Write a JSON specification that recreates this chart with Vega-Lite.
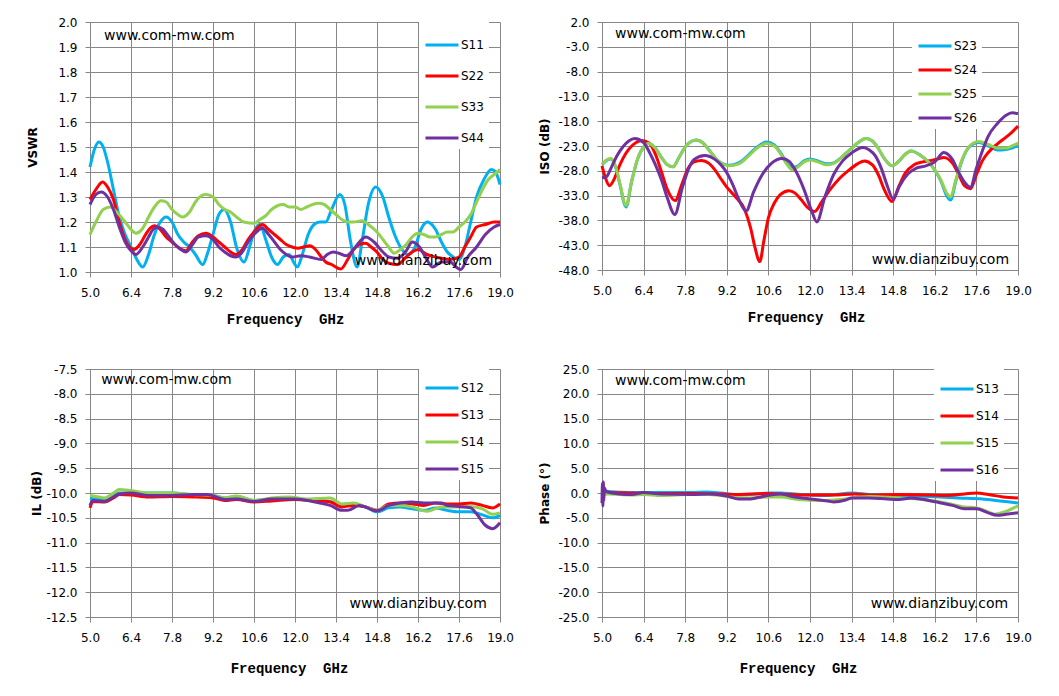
{
  "$schema": "https://vega.github.io/schema/vega-lite/v6.json",
  "description": "Switch matrix S-parameters: VSWR, isolation, insertion loss and phase vs frequency",
  "background": "white",
  "padding": {"left": 26, "top": 16, "right": 5, "bottom": 5},
  "datasets": {
    "vswr": [
      {"f":5.0,"v":1.42,"s":"S11"},{"f":5.15,"v":1.49,"s":"S11"},{"f":5.3,"v":1.52,"s":"S11"},{"f":5.45,"v":1.5,"s":"S11"},{"f":5.6,"v":1.44,"s":"S11"},{"f":5.8,"v":1.33,"s":"S11"},{"f":6.0,"v":1.22,"s":"S11"},{"f":6.2,"v":1.15,"s":"S11"},{"f":6.4,"v":1.1,"s":"S11"},{"f":6.6,"v":1.05,"s":"S11"},{"f":6.8,"v":1.02,"s":"S11"},{"f":7.0,"v":1.07,"s":"S11"},{"f":7.2,"v":1.15,"s":"S11"},{"f":7.4,"v":1.2,"s":"S11"},{"f":7.6,"v":1.22,"s":"S11"},{"f":7.8,"v":1.2,"s":"S11"},{"f":8.0,"v":1.15,"s":"S11"},{"f":8.2,"v":1.12,"s":"S11"},{"f":8.4,"v":1.1,"s":"S11"},{"f":8.6,"v":1.07,"s":"S11"},{"f":8.85,"v":1.03,"s":"S11"},{"f":9.0,"v":1.07,"s":"S11"},{"f":9.2,"v":1.15,"s":"S11"},{"f":9.4,"v":1.23,"s":"S11"},{"f":9.58,"v":1.25,"s":"S11"},{"f":9.8,"v":1.2,"s":"S11"},{"f":10.0,"v":1.1,"s":"S11"},{"f":10.26,"v":1.04,"s":"S11"},{"f":10.45,"v":1.1,"s":"S11"},{"f":10.6,"v":1.16,"s":"S11"},{"f":10.8,"v":1.19,"s":"S11"},{"f":11.0,"v":1.13,"s":"S11"},{"f":11.2,"v":1.06,"s":"S11"},{"f":11.4,"v":1.03,"s":"S11"},{"f":11.6,"v":1.06,"s":"S11"},{"f":11.8,"v":1.07,"s":"S11"},{"f":11.95,"v":1.04,"s":"S11"},{"f":12.08,"v":1.02,"s":"S11"},{"f":12.25,"v":1.07,"s":"S11"},{"f":12.45,"v":1.15,"s":"S11"},{"f":12.65,"v":1.19,"s":"S11"},{"f":12.85,"v":1.2,"s":"S11"},{"f":13.05,"v":1.2,"s":"S11"},{"f":13.25,"v":1.25,"s":"S11"},{"f":13.53,"v":1.31,"s":"S11"},{"f":13.7,"v":1.27,"s":"S11"},{"f":13.9,"v":1.12,"s":"S11"},{"f":14.12,"v":1.02,"s":"S11"},{"f":14.3,"v":1.13,"s":"S11"},{"f":14.5,"v":1.27,"s":"S11"},{"f":14.76,"v":1.34,"s":"S11"},{"f":15.0,"v":1.3,"s":"S11"},{"f":15.2,"v":1.22,"s":"S11"},{"f":15.4,"v":1.15,"s":"S11"},{"f":15.6,"v":1.1,"s":"S11"},{"f":15.85,"v":1.07,"s":"S11"},{"f":16.1,"v":1.1,"s":"S11"},{"f":16.3,"v":1.17,"s":"S11"},{"f":16.52,"v":1.2,"s":"S11"},{"f":16.8,"v":1.17,"s":"S11"},{"f":17.0,"v":1.12,"s":"S11"},{"f":17.2,"v":1.08,"s":"S11"},{"f":17.4,"v":1.06,"s":"S11"},{"f":17.6,"v":1.05,"s":"S11"},{"f":17.8,"v":1.1,"s":"S11"},{"f":18.0,"v":1.2,"s":"S11"},{"f":18.2,"v":1.3,"s":"S11"},{"f":18.45,"v":1.37,"s":"S11"},{"f":18.71,"v":1.41,"s":"S11"},{"f":18.85,"v":1.4,"s":"S11"},{"f":19.0,"v":1.35,"s":"S11"},
      {"f":5.0,"v":1.29,"s":"S22"},{"f":5.2,"v":1.33,"s":"S22"},{"f":5.43,"v":1.36,"s":"S22"},{"f":5.6,"v":1.34,"s":"S22"},{"f":5.8,"v":1.29,"s":"S22"},{"f":6.0,"v":1.2,"s":"S22"},{"f":6.2,"v":1.13,"s":"S22"},{"f":6.35,"v":1.1,"s":"S22"},{"f":6.5,"v":1.09,"s":"S22"},{"f":6.7,"v":1.11,"s":"S22"},{"f":6.9,"v":1.15,"s":"S22"},{"f":7.05,"v":1.175,"s":"S22"},{"f":7.2,"v":1.185,"s":"S22"},{"f":7.4,"v":1.17,"s":"S22"},{"f":7.6,"v":1.14,"s":"S22"},{"f":7.8,"v":1.12,"s":"S22"},{"f":8.0,"v":1.1,"s":"S22"},{"f":8.27,"v":1.085,"s":"S22"},{"f":8.5,"v":1.12,"s":"S22"},{"f":8.7,"v":1.145,"s":"S22"},{"f":8.96,"v":1.155,"s":"S22"},{"f":9.2,"v":1.14,"s":"S22"},{"f":9.4,"v":1.12,"s":"S22"},{"f":9.6,"v":1.1,"s":"S22"},{"f":9.8,"v":1.08,"s":"S22"},{"f":9.98,"v":1.07,"s":"S22"},{"f":10.2,"v":1.09,"s":"S22"},{"f":10.4,"v":1.13,"s":"S22"},{"f":10.6,"v":1.16,"s":"S22"},{"f":10.89,"v":1.19,"s":"S22"},{"f":11.1,"v":1.17,"s":"S22"},{"f":11.3,"v":1.15,"s":"S22"},{"f":11.5,"v":1.13,"s":"S22"},{"f":11.7,"v":1.11,"s":"S22"},{"f":11.9,"v":1.1,"s":"S22"},{"f":12.1,"v":1.095,"s":"S22"},{"f":12.3,"v":1.1,"s":"S22"},{"f":12.5,"v":1.105,"s":"S22"},{"f":12.7,"v":1.09,"s":"S22"},{"f":12.9,"v":1.06,"s":"S22"},{"f":13.05,"v":1.04,"s":"S22"},{"f":13.25,"v":1.03,"s":"S22"},{"f":13.56,"v":1.012,"s":"S22"},{"f":13.8,"v":1.05,"s":"S22"},{"f":14.0,"v":1.09,"s":"S22"},{"f":14.2,"v":1.11,"s":"S22"},{"f":14.42,"v":1.115,"s":"S22"},{"f":14.6,"v":1.1,"s":"S22"},{"f":14.8,"v":1.08,"s":"S22"},{"f":15.0,"v":1.05,"s":"S22"},{"f":15.2,"v":1.035,"s":"S22"},{"f":15.5,"v":1.03,"s":"S22"},{"f":15.8,"v":1.06,"s":"S22"},{"f":16.0,"v":1.08,"s":"S22"},{"f":16.2,"v":1.09,"s":"S22"},{"f":16.5,"v":1.07,"s":"S22"},{"f":16.8,"v":1.06,"s":"S22"},{"f":17.0,"v":1.055,"s":"S22"},{"f":17.3,"v":1.05,"s":"S22"},{"f":17.6,"v":1.06,"s":"S22"},{"f":17.8,"v":1.1,"s":"S22"},{"f":18.0,"v":1.14,"s":"S22"},{"f":18.2,"v":1.18,"s":"S22"},{"f":18.5,"v":1.19,"s":"S22"},{"f":18.8,"v":1.2,"s":"S22"},{"f":19.0,"v":1.2,"s":"S22"},
      {"f":5.0,"v":1.15,"s":"S33"},{"f":5.2,"v":1.2,"s":"S33"},{"f":5.45,"v":1.25,"s":"S33"},{"f":5.7,"v":1.26,"s":"S33"},{"f":5.95,"v":1.235,"s":"S33"},{"f":6.2,"v":1.2,"s":"S33"},{"f":6.4,"v":1.17,"s":"S33"},{"f":6.57,"v":1.155,"s":"S33"},{"f":6.8,"v":1.175,"s":"S33"},{"f":7.0,"v":1.22,"s":"S33"},{"f":7.2,"v":1.26,"s":"S33"},{"f":7.42,"v":1.285,"s":"S33"},{"f":7.6,"v":1.28,"s":"S33"},{"f":7.8,"v":1.25,"s":"S33"},{"f":8.0,"v":1.23,"s":"S33"},{"f":8.16,"v":1.22,"s":"S33"},{"f":8.4,"v":1.24,"s":"S33"},{"f":8.6,"v":1.28,"s":"S33"},{"f":8.8,"v":1.305,"s":"S33"},{"f":8.96,"v":1.31,"s":"S33"},{"f":9.2,"v":1.3,"s":"S33"},{"f":9.4,"v":1.27,"s":"S33"},{"f":9.6,"v":1.25,"s":"S33"},{"f":9.8,"v":1.24,"s":"S33"},{"f":10.0,"v":1.22,"s":"S33"},{"f":10.25,"v":1.2,"s":"S33"},{"f":10.6,"v":1.195,"s":"S33"},{"f":10.8,"v":1.21,"s":"S33"},{"f":11.0,"v":1.225,"s":"S33"},{"f":11.2,"v":1.25,"s":"S33"},{"f":11.4,"v":1.265,"s":"S33"},{"f":11.6,"v":1.27,"s":"S33"},{"f":11.8,"v":1.26,"s":"S33"},{"f":12.0,"v":1.26,"s":"S33"},{"f":12.2,"v":1.25,"s":"S33"},{"f":12.4,"v":1.26,"s":"S33"},{"f":12.6,"v":1.27,"s":"S33"},{"f":12.8,"v":1.275,"s":"S33"},{"f":13.0,"v":1.27,"s":"S33"},{"f":13.2,"v":1.25,"s":"S33"},{"f":13.4,"v":1.23,"s":"S33"},{"f":13.6,"v":1.21,"s":"S33"},{"f":13.8,"v":1.2,"s":"S33"},{"f":14.0,"v":1.2,"s":"S33"},{"f":14.3,"v":1.205,"s":"S33"},{"f":14.5,"v":1.19,"s":"S33"},{"f":14.8,"v":1.16,"s":"S33"},{"f":15.0,"v":1.13,"s":"S33"},{"f":15.2,"v":1.1,"s":"S33"},{"f":15.38,"v":1.075,"s":"S33"},{"f":15.6,"v":1.09,"s":"S33"},{"f":15.8,"v":1.11,"s":"S33"},{"f":16.0,"v":1.14,"s":"S33"},{"f":16.2,"v":1.155,"s":"S33"},{"f":16.4,"v":1.15,"s":"S33"},{"f":16.6,"v":1.14,"s":"S33"},{"f":16.8,"v":1.14,"s":"S33"},{"f":17.0,"v":1.15,"s":"S33"},{"f":17.2,"v":1.16,"s":"S33"},{"f":17.4,"v":1.16,"s":"S33"},{"f":17.6,"v":1.18,"s":"S33"},{"f":17.8,"v":1.2,"s":"S33"},{"f":18.0,"v":1.23,"s":"S33"},{"f":18.2,"v":1.28,"s":"S33"},{"f":18.4,"v":1.33,"s":"S33"},{"f":18.6,"v":1.37,"s":"S33"},{"f":18.8,"v":1.39,"s":"S33"},{"f":19.0,"v":1.41,"s":"S33"},
      {"f":5.0,"v":1.27,"s":"S44"},{"f":5.2,"v":1.31,"s":"S44"},{"f":5.38,"v":1.32,"s":"S44"},{"f":5.6,"v":1.3,"s":"S44"},{"f":5.8,"v":1.25,"s":"S44"},{"f":6.0,"v":1.18,"s":"S44"},{"f":6.2,"v":1.12,"s":"S44"},{"f":6.4,"v":1.085,"s":"S44"},{"f":6.57,"v":1.07,"s":"S44"},{"f":6.8,"v":1.1,"s":"S44"},{"f":7.0,"v":1.14,"s":"S44"},{"f":7.15,"v":1.17,"s":"S44"},{"f":7.3,"v":1.18,"s":"S44"},{"f":7.5,"v":1.17,"s":"S44"},{"f":7.7,"v":1.14,"s":"S44"},{"f":7.9,"v":1.11,"s":"S44"},{"f":8.1,"v":1.09,"s":"S44"},{"f":8.27,"v":1.08,"s":"S44"},{"f":8.5,"v":1.11,"s":"S44"},{"f":8.7,"v":1.14,"s":"S44"},{"f":8.96,"v":1.145,"s":"S44"},{"f":9.2,"v":1.13,"s":"S44"},{"f":9.4,"v":1.1,"s":"S44"},{"f":9.6,"v":1.08,"s":"S44"},{"f":9.8,"v":1.065,"s":"S44"},{"f":9.98,"v":1.06,"s":"S44"},{"f":10.2,"v":1.08,"s":"S44"},{"f":10.4,"v":1.12,"s":"S44"},{"f":10.6,"v":1.15,"s":"S44"},{"f":10.89,"v":1.175,"s":"S44"},{"f":11.1,"v":1.15,"s":"S44"},{"f":11.3,"v":1.12,"s":"S44"},{"f":11.5,"v":1.09,"s":"S44"},{"f":11.7,"v":1.07,"s":"S44"},{"f":11.9,"v":1.06,"s":"S44"},{"f":12.2,"v":1.065,"s":"S44"},{"f":12.5,"v":1.06,"s":"S44"},{"f":12.9,"v":1.05,"s":"S44"},{"f":13.1,"v":1.07,"s":"S44"},{"f":13.3,"v":1.08,"s":"S44"},{"f":13.5,"v":1.075,"s":"S44"},{"f":13.75,"v":1.065,"s":"S44"},{"f":14.0,"v":1.09,"s":"S44"},{"f":14.2,"v":1.12,"s":"S44"},{"f":14.42,"v":1.14,"s":"S44"},{"f":14.7,"v":1.12,"s":"S44"},{"f":15.0,"v":1.08,"s":"S44"},{"f":15.2,"v":1.06,"s":"S44"},{"f":15.5,"v":1.055,"s":"S44"},{"f":15.8,"v":1.085,"s":"S44"},{"f":16.0,"v":1.12,"s":"S44"},{"f":16.25,"v":1.1,"s":"S44"},{"f":16.5,"v":1.05,"s":"S44"},{"f":16.7,"v":1.02,"s":"S44"},{"f":17.0,"v":1.04,"s":"S44"},{"f":17.3,"v":1.04,"s":"S44"},{"f":17.5,"v":1.02,"s":"S44"},{"f":17.66,"v":1.01,"s":"S44"},{"f":17.9,"v":1.06,"s":"S44"},{"f":18.2,"v":1.1,"s":"S44"},{"f":18.5,"v":1.15,"s":"S44"},{"f":18.8,"v":1.18,"s":"S44"},{"f":19.0,"v":1.19,"s":"S44"}
    ],
    "iso": [
      {"f":5.0,"v":-26.8,"s":"S23"},{"f":5.15,"v":-25.9,"s":"S23"},{"f":5.3,"v":-25.6,"s":"S23"},{"f":5.45,"v":-27.1,"s":"S23"},{"f":5.6,"v":-30.7,"s":"S23"},{"f":5.81,"v":-35.3,"s":"S23"},{"f":6.0,"v":-30.1,"s":"S23"},{"f":6.2,"v":-25.6,"s":"S23"},{"f":6.4,"v":-23.2,"s":"S23"},{"f":6.56,"v":-22.5,"s":"S23"},{"f":6.8,"v":-23.5,"s":"S23"},{"f":7.0,"v":-25.3,"s":"S23"},{"f":7.2,"v":-26.8,"s":"S23"},{"f":7.39,"v":-27.2,"s":"S23"},{"f":7.6,"v":-25.2,"s":"S23"},{"f":7.8,"v":-23.2,"s":"S23"},{"f":8.0,"v":-22.1,"s":"S23"},{"f":8.18,"v":-21.8,"s":"S23"},{"f":8.4,"v":-22.4,"s":"S23"},{"f":8.6,"v":-23.8,"s":"S23"},{"f":8.8,"v":-25.3,"s":"S23"},{"f":9.0,"v":-26.4,"s":"S23"},{"f":9.27,"v":-26.9,"s":"S23"},{"f":9.6,"v":-26.4,"s":"S23"},{"f":9.9,"v":-25,"s":"S23"},{"f":10.2,"v":-23.3,"s":"S23"},{"f":10.54,"v":-22.2,"s":"S23"},{"f":10.8,"v":-22.8,"s":"S23"},{"f":11.0,"v":-24.3,"s":"S23"},{"f":11.2,"v":-26.2,"s":"S23"},{"f":11.41,"v":-27.4,"s":"S23"},{"f":11.6,"v":-27,"s":"S23"},{"f":11.8,"v":-26,"s":"S23"},{"f":12.0,"v":-25.6,"s":"S23"},{"f":12.3,"v":-26.1,"s":"S23"},{"f":12.56,"v":-26.6,"s":"S23"},{"f":12.8,"v":-26.4,"s":"S23"},{"f":13.0,"v":-25.6,"s":"S23"},{"f":13.2,"v":-24.5,"s":"S23"},{"f":13.4,"v":-23.5,"s":"S23"},{"f":13.6,"v":-22.4,"s":"S23"},{"f":13.89,"v":-21.5,"s":"S23"},{"f":14.1,"v":-22,"s":"S23"},{"f":14.3,"v":-23.5,"s":"S23"},{"f":14.5,"v":-25.5,"s":"S23"},{"f":14.76,"v":-27,"s":"S23"},{"f":15.0,"v":-26,"s":"S23"},{"f":15.2,"v":-24.7,"s":"S23"},{"f":15.4,"v":-24,"s":"S23"},{"f":15.7,"v":-24.8,"s":"S23"},{"f":16.0,"v":-26.3,"s":"S23"},{"f":16.2,"v":-27.9,"s":"S23"},{"f":16.4,"v":-30,"s":"S23"},{"f":16.6,"v":-33,"s":"S23"},{"f":16.73,"v":-33.9,"s":"S23"},{"f":16.9,"v":-30.3,"s":"S23"},{"f":17.1,"v":-26.2,"s":"S23"},{"f":17.3,"v":-23.6,"s":"S23"},{"f":17.5,"v":-22.6,"s":"S23"},{"f":17.68,"v":-22.3,"s":"S23"},{"f":18.0,"v":-23,"s":"S23"},{"f":18.3,"v":-23.8,"s":"S23"},{"f":18.6,"v":-23.7,"s":"S23"},{"f":18.8,"v":-23.4,"s":"S23"},{"f":19.0,"v":-23,"s":"S23"},
      {"f":5.0,"v":-27,"s":"S24"},{"f":5.12,"v":-29.5,"s":"S24"},{"f":5.25,"v":-31,"s":"S24"},{"f":5.4,"v":-29.8,"s":"S24"},{"f":5.6,"v":-26.8,"s":"S24"},{"f":5.8,"v":-24.5,"s":"S24"},{"f":6.0,"v":-23,"s":"S24"},{"f":6.15,"v":-22.3,"s":"S24"},{"f":6.33,"v":-21.9,"s":"S24"},{"f":6.6,"v":-22.5,"s":"S24"},{"f":6.8,"v":-24.7,"s":"S24"},{"f":7.0,"v":-28.2,"s":"S24"},{"f":7.2,"v":-31.8,"s":"S24"},{"f":7.46,"v":-34,"s":"S24"},{"f":7.7,"v":-30.5,"s":"S24"},{"f":7.9,"v":-27.5,"s":"S24"},{"f":8.1,"v":-26.2,"s":"S24"},{"f":8.35,"v":-25.9,"s":"S24"},{"f":8.6,"v":-26.5,"s":"S24"},{"f":8.8,"v":-27.8,"s":"S24"},{"f":9.0,"v":-29.6,"s":"S24"},{"f":9.2,"v":-31.3,"s":"S24"},{"f":9.5,"v":-33.3,"s":"S24"},{"f":9.8,"v":-35.8,"s":"S24"},{"f":10.0,"v":-39.5,"s":"S24"},{"f":10.15,"v":-43.5,"s":"S24"},{"f":10.31,"v":-46.3,"s":"S24"},{"f":10.45,"v":-42,"s":"S24"},{"f":10.6,"v":-37.5,"s":"S24"},{"f":10.8,"v":-34.5,"s":"S24"},{"f":11.0,"v":-32.8,"s":"S24"},{"f":11.29,"v":-32,"s":"S24"},{"f":11.5,"v":-32.5,"s":"S24"},{"f":11.7,"v":-33.8,"s":"S24"},{"f":11.9,"v":-35.3,"s":"S24"},{"f":12.16,"v":-36.2,"s":"S24"},{"f":12.4,"v":-34.2,"s":"S24"},{"f":12.7,"v":-31.6,"s":"S24"},{"f":13.0,"v":-29.5,"s":"S24"},{"f":13.3,"v":-27.9,"s":"S24"},{"f":13.6,"v":-26.6,"s":"S24"},{"f":13.83,"v":-26,"s":"S24"},{"f":14.1,"v":-26.8,"s":"S24"},{"f":14.3,"v":-28.8,"s":"S24"},{"f":14.5,"v":-31.8,"s":"S24"},{"f":14.76,"v":-34.2,"s":"S24"},{"f":15.0,"v":-31,"s":"S24"},{"f":15.2,"v":-28.5,"s":"S24"},{"f":15.5,"v":-26.8,"s":"S24"},{"f":15.8,"v":-26.2,"s":"S24"},{"f":16.1,"v":-25.9,"s":"S24"},{"f":16.3,"v":-25.6,"s":"S24"},{"f":16.5,"v":-25.3,"s":"S24"},{"f":16.8,"v":-26.5,"s":"S24"},{"f":17.0,"v":-28.7,"s":"S24"},{"f":17.2,"v":-31,"s":"S24"},{"f":17.4,"v":-31.6,"s":"S24"},{"f":17.6,"v":-28.8,"s":"S24"},{"f":17.8,"v":-26,"s":"S24"},{"f":18.0,"v":-24.3,"s":"S24"},{"f":18.3,"v":-22.6,"s":"S24"},{"f":18.6,"v":-21.2,"s":"S24"},{"f":18.8,"v":-20.2,"s":"S24"},{"f":19.0,"v":-19,"s":"S24"},
      {"f":5.0,"v":-26.7,"s":"S25"},{"f":5.15,"v":-25.8,"s":"S25"},{"f":5.3,"v":-25.5,"s":"S25"},{"f":5.45,"v":-27,"s":"S25"},{"f":5.6,"v":-30.5,"s":"S25"},{"f":5.81,"v":-35,"s":"S25"},{"f":6.0,"v":-30,"s":"S25"},{"f":6.2,"v":-25.5,"s":"S25"},{"f":6.4,"v":-23.2,"s":"S25"},{"f":6.56,"v":-22.5,"s":"S25"},{"f":6.8,"v":-23.5,"s":"S25"},{"f":7.0,"v":-25.3,"s":"S25"},{"f":7.2,"v":-26.8,"s":"S25"},{"f":7.39,"v":-27.2,"s":"S25"},{"f":7.6,"v":-25.2,"s":"S25"},{"f":7.8,"v":-23.2,"s":"S25"},{"f":8.0,"v":-22.1,"s":"S25"},{"f":8.18,"v":-21.8,"s":"S25"},{"f":8.4,"v":-22.4,"s":"S25"},{"f":8.6,"v":-23.8,"s":"S25"},{"f":8.8,"v":-25.3,"s":"S25"},{"f":9.0,"v":-26.4,"s":"S25"},{"f":9.27,"v":-27,"s":"S25"},{"f":9.6,"v":-26.6,"s":"S25"},{"f":9.9,"v":-25.2,"s":"S25"},{"f":10.2,"v":-23.5,"s":"S25"},{"f":10.54,"v":-22.5,"s":"S25"},{"f":10.8,"v":-23,"s":"S25"},{"f":11.0,"v":-24.5,"s":"S25"},{"f":11.2,"v":-26.5,"s":"S25"},{"f":11.41,"v":-27.8,"s":"S25"},{"f":11.6,"v":-27.2,"s":"S25"},{"f":11.8,"v":-26.2,"s":"S25"},{"f":12.0,"v":-25.8,"s":"S25"},{"f":12.3,"v":-26.3,"s":"S25"},{"f":12.56,"v":-26.8,"s":"S25"},{"f":12.8,"v":-26.5,"s":"S25"},{"f":13.0,"v":-25.6,"s":"S25"},{"f":13.2,"v":-24.5,"s":"S25"},{"f":13.4,"v":-23.5,"s":"S25"},{"f":13.6,"v":-22.4,"s":"S25"},{"f":13.89,"v":-21.5,"s":"S25"},{"f":14.1,"v":-22,"s":"S25"},{"f":14.3,"v":-23.5,"s":"S25"},{"f":14.5,"v":-25.5,"s":"S25"},{"f":14.76,"v":-27,"s":"S25"},{"f":15.0,"v":-26,"s":"S25"},{"f":15.2,"v":-24.7,"s":"S25"},{"f":15.4,"v":-24,"s":"S25"},{"f":15.7,"v":-24.8,"s":"S25"},{"f":16.0,"v":-26.3,"s":"S25"},{"f":16.2,"v":-27.8,"s":"S25"},{"f":16.4,"v":-29.8,"s":"S25"},{"f":16.6,"v":-32.5,"s":"S25"},{"f":16.73,"v":-33.3,"s":"S25"},{"f":16.9,"v":-30,"s":"S25"},{"f":17.1,"v":-26,"s":"S25"},{"f":17.3,"v":-23.5,"s":"S25"},{"f":17.5,"v":-22.4,"s":"S25"},{"f":17.68,"v":-22.1,"s":"S25"},{"f":18.0,"v":-22.7,"s":"S25"},{"f":18.3,"v":-23.4,"s":"S25"},{"f":18.6,"v":-23.4,"s":"S25"},{"f":18.8,"v":-23,"s":"S25"},{"f":19.0,"v":-22.4,"s":"S25"},
      {"f":5.0,"v":-29.4,"s":"S26"},{"f":5.15,"v":-29.2,"s":"S26"},{"f":5.3,"v":-27.5,"s":"S26"},{"f":5.5,"v":-25,"s":"S26"},{"f":5.7,"v":-23.2,"s":"S26"},{"f":5.9,"v":-22,"s":"S26"},{"f":6.1,"v":-21.5,"s":"S26"},{"f":6.4,"v":-22.3,"s":"S26"},{"f":6.6,"v":-24.3,"s":"S26"},{"f":6.8,"v":-26.8,"s":"S26"},{"f":7.0,"v":-29.8,"s":"S26"},{"f":7.2,"v":-33.5,"s":"S26"},{"f":7.45,"v":-36.8,"s":"S26"},{"f":7.7,"v":-31.5,"s":"S26"},{"f":7.9,"v":-27.8,"s":"S26"},{"f":8.1,"v":-25.7,"s":"S26"},{"f":8.46,"v":-24.9,"s":"S26"},{"f":8.8,"v":-25.7,"s":"S26"},{"f":9.0,"v":-26.8,"s":"S26"},{"f":9.2,"v":-28.4,"s":"S26"},{"f":9.4,"v":-30.8,"s":"S26"},{"f":9.6,"v":-33.7,"s":"S26"},{"f":9.85,"v":-36.1,"s":"S26"},{"f":10.1,"v":-32.3,"s":"S26"},{"f":10.4,"v":-28.7,"s":"S26"},{"f":10.7,"v":-26.5,"s":"S26"},{"f":11.06,"v":-25.5,"s":"S26"},{"f":11.3,"v":-26.1,"s":"S26"},{"f":11.5,"v":-27.8,"s":"S26"},{"f":11.8,"v":-31.8,"s":"S26"},{"f":12.05,"v":-36,"s":"S26"},{"f":12.23,"v":-38.3,"s":"S26"},{"f":12.5,"v":-33.3,"s":"S26"},{"f":12.8,"v":-28.7,"s":"S26"},{"f":13.1,"v":-26,"s":"S26"},{"f":13.4,"v":-24.4,"s":"S26"},{"f":13.78,"v":-23.3,"s":"S26"},{"f":14.0,"v":-23.8,"s":"S26"},{"f":14.2,"v":-25,"s":"S26"},{"f":14.4,"v":-27.5,"s":"S26"},{"f":14.6,"v":-31,"s":"S26"},{"f":14.8,"v":-33.7,"s":"S26"},{"f":15.0,"v":-31.2,"s":"S26"},{"f":15.3,"v":-28.6,"s":"S26"},{"f":15.6,"v":-27.4,"s":"S26"},{"f":15.9,"v":-27,"s":"S26"},{"f":16.2,"v":-26.2,"s":"S26"},{"f":16.5,"v":-24.3,"s":"S26"},{"f":16.8,"v":-25.8,"s":"S26"},{"f":17.0,"v":-28.3,"s":"S26"},{"f":17.4,"v":-31.3,"s":"S26"},{"f":17.6,"v":-27.5,"s":"S26"},{"f":17.8,"v":-24,"s":"S26"},{"f":18.0,"v":-21,"s":"S26"},{"f":18.3,"v":-18.5,"s":"S26"},{"f":18.6,"v":-16.8,"s":"S26"},{"f":18.8,"v":-16.3,"s":"S26"},{"f":19.0,"v":-16.5,"s":"S26"}
    ],
    "il": [
      {"f":5.0,"v":-10.1,"s":"S12"},{"f":5.3,"v":-10.13,"s":"S12"},{"f":5.6,"v":-10.14,"s":"S12"},{"f":6.0,"v":-10.0,"s":"S12"},{"f":6.4,"v":-10.0,"s":"S12"},{"f":7.0,"v":-10.0,"s":"S12"},{"f":7.8,"v":-10.0,"s":"S12"},{"f":8.5,"v":-10.04,"s":"S12"},{"f":9.2,"v":-10.05,"s":"S12"},{"f":9.6,"v":-10.1,"s":"S12"},{"f":10.0,"v":-10.07,"s":"S12"},{"f":10.6,"v":-10.15,"s":"S12"},{"f":11.2,"v":-10.12,"s":"S12"},{"f":12.0,"v":-10.12,"s":"S12"},{"f":12.6,"v":-10.15,"s":"S12"},{"f":13.2,"v":-10.17,"s":"S12"},{"f":13.6,"v":-10.25,"s":"S12"},{"f":14.0,"v":-10.24,"s":"S12"},{"f":14.4,"v":-10.28,"s":"S12"},{"f":14.8,"v":-10.38,"s":"S12"},{"f":15.2,"v":-10.3,"s":"S12"},{"f":15.6,"v":-10.28,"s":"S12"},{"f":16.0,"v":-10.32,"s":"S12"},{"f":16.4,"v":-10.35,"s":"S12"},{"f":16.8,"v":-10.3,"s":"S12"},{"f":17.2,"v":-10.35,"s":"S12"},{"f":17.6,"v":-10.38,"s":"S12"},{"f":18.0,"v":-10.38,"s":"S12"},{"f":18.4,"v":-10.44,"s":"S12"},{"f":18.75,"v":-10.5,"s":"S12"},{"f":19.0,"v":-10.45,"s":"S12"},
      {"f":5.0,"v":-10.3,"s":"S13"},{"f":5.1,"v":-10.17,"s":"S13"},{"f":5.5,"v":-10.18,"s":"S13"},{"f":5.8,"v":-10.1,"s":"S13"},{"f":6.0,"v":-10.03,"s":"S13"},{"f":6.4,"v":-10.04,"s":"S13"},{"f":7.0,"v":-10.08,"s":"S13"},{"f":7.8,"v":-10.07,"s":"S13"},{"f":8.5,"v":-10.08,"s":"S13"},{"f":9.2,"v":-10.1,"s":"S13"},{"f":9.6,"v":-10.15,"s":"S13"},{"f":10.0,"v":-10.13,"s":"S13"},{"f":10.6,"v":-10.18,"s":"S13"},{"f":11.2,"v":-10.16,"s":"S13"},{"f":12.0,"v":-10.13,"s":"S13"},{"f":12.6,"v":-10.15,"s":"S13"},{"f":13.2,"v":-10.18,"s":"S13"},{"f":13.6,"v":-10.28,"s":"S13"},{"f":14.0,"v":-10.25,"s":"S13"},{"f":14.4,"v":-10.28,"s":"S13"},{"f":14.8,"v":-10.35,"s":"S13"},{"f":15.2,"v":-10.22,"s":"S13"},{"f":15.6,"v":-10.2,"s":"S13"},{"f":16.0,"v":-10.22,"s":"S13"},{"f":16.4,"v":-10.25,"s":"S13"},{"f":16.8,"v":-10.2,"s":"S13"},{"f":17.2,"v":-10.22,"s":"S13"},{"f":17.6,"v":-10.22,"s":"S13"},{"f":18.0,"v":-10.2,"s":"S13"},{"f":18.4,"v":-10.25,"s":"S13"},{"f":18.75,"v":-10.3,"s":"S13"},{"f":19.0,"v":-10.22,"s":"S13"},
      {"f":5.0,"v":-10.05,"s":"S14"},{"f":5.2,"v":-10.07,"s":"S14"},{"f":5.5,"v":-10.1,"s":"S14"},{"f":5.8,"v":-10.0,"s":"S14"},{"f":6.0,"v":-9.93,"s":"S14"},{"f":6.4,"v":-9.95,"s":"S14"},{"f":7.0,"v":-10.0,"s":"S14"},{"f":7.8,"v":-10.0,"s":"S14"},{"f":8.5,"v":-10.03,"s":"S14"},{"f":9.2,"v":-10.05,"s":"S14"},{"f":9.6,"v":-10.1,"s":"S14"},{"f":10.0,"v":-10.06,"s":"S14"},{"f":10.6,"v":-10.15,"s":"S14"},{"f":11.2,"v":-10.1,"s":"S14"},{"f":11.8,"v":-10.08,"s":"S14"},{"f":12.4,"v":-10.12,"s":"S14"},{"f":13.2,"v":-10.1,"s":"S14"},{"f":13.6,"v":-10.22,"s":"S14"},{"f":14.0,"v":-10.2,"s":"S14"},{"f":14.4,"v":-10.28,"s":"S14"},{"f":14.8,"v":-10.35,"s":"S14"},{"f":15.2,"v":-10.25,"s":"S14"},{"f":15.6,"v":-10.25,"s":"S14"},{"f":16.0,"v":-10.28,"s":"S14"},{"f":16.5,"v":-10.37,"s":"S14"},{"f":17.0,"v":-10.28,"s":"S14"},{"f":17.6,"v":-10.28,"s":"S14"},{"f":18.0,"v":-10.27,"s":"S14"},{"f":18.4,"v":-10.32,"s":"S14"},{"f":18.75,"v":-10.43,"s":"S14"},{"f":19.0,"v":-10.4,"s":"S14"},
      {"f":5.0,"v":-10.25,"s":"S15"},{"f":5.1,"v":-10.15,"s":"S15"},{"f":5.5,"v":-10.17,"s":"S15"},{"f":5.8,"v":-10.08,"s":"S15"},{"f":6.0,"v":-10.02,"s":"S15"},{"f":6.4,"v":-10.0,"s":"S15"},{"f":7.0,"v":-10.05,"s":"S15"},{"f":7.8,"v":-10.05,"s":"S15"},{"f":8.5,"v":-10.03,"s":"S15"},{"f":9.0,"v":-10.03,"s":"S15"},{"f":9.6,"v":-10.13,"s":"S15"},{"f":10.0,"v":-10.12,"s":"S15"},{"f":10.6,"v":-10.17,"s":"S15"},{"f":11.2,"v":-10.12,"s":"S15"},{"f":12.0,"v":-10.12,"s":"S15"},{"f":12.6,"v":-10.17,"s":"S15"},{"f":13.2,"v":-10.25,"s":"S15"},{"f":13.6,"v":-10.35,"s":"S15"},{"f":13.8,"v":-10.35,"s":"S15"},{"f":14.2,"v":-10.25,"s":"S15"},{"f":14.8,"v":-10.36,"s":"S15"},{"f":15.2,"v":-10.25,"s":"S15"},{"f":15.6,"v":-10.2,"s":"S15"},{"f":16.0,"v":-10.18,"s":"S15"},{"f":16.4,"v":-10.2,"s":"S15"},{"f":17.0,"v":-10.2,"s":"S15"},{"f":17.2,"v":-10.25,"s":"S15"},{"f":17.6,"v":-10.27,"s":"S15"},{"f":18.0,"v":-10.3,"s":"S15"},{"f":18.2,"v":-10.42,"s":"S15"},{"f":18.5,"v":-10.65,"s":"S15"},{"f":18.75,"v":-10.72,"s":"S15"},{"f":19.0,"v":-10.6,"s":"S15"}
    ],
    "phase": [
      {"f":5.0,"v":0.5,"s":"S13"},{"f":5.2,"v":0.3,"s":"S13"},{"f":6.0,"v":0.1,"s":"S13"},{"f":7.0,"v":0.1,"s":"S13"},{"f":8.0,"v":0.1,"s":"S13"},{"f":8.5,"v":0.2,"s":"S13"},{"f":9.0,"v":0,"s":"S13"},{"f":9.5,"v":-0.3,"s":"S13"},{"f":10.0,"v":-0.3,"s":"S13"},{"f":10.6,"v":0,"s":"S13"},{"f":11.0,"v":0,"s":"S13"},{"f":11.5,"v":-0.2,"s":"S13"},{"f":12.5,"v":-0.5,"s":"S13"},{"f":13.4,"v":0,"s":"S13"},{"f":14.0,"v":-0.3,"s":"S13"},{"f":15.0,"v":-0.5,"s":"S13"},{"f":16.0,"v":-0.7,"s":"S13"},{"f":17.0,"v":-1.0,"s":"S13"},{"f":17.8,"v":-1.2,"s":"S13"},{"f":18.4,"v":-1.6,"s":"S13"},{"f":19.0,"v":-2.0,"s":"S13"},
      {"f":5.0,"v":0,"s":"S14"},{"f":5.2,"v":0.1,"s":"S14"},{"f":6.0,"v":0,"s":"S14"},{"f":7.0,"v":-0.1,"s":"S14"},{"f":8.0,"v":-0.1,"s":"S14"},{"f":9.0,"v":-0.2,"s":"S14"},{"f":9.5,"v":-0.3,"s":"S14"},{"f":10.5,"v":-0.1,"s":"S14"},{"f":11.0,"v":-0.2,"s":"S14"},{"f":12.0,"v":-0.4,"s":"S14"},{"f":12.8,"v":-0.4,"s":"S14"},{"f":13.5,"v":-0.2,"s":"S14"},{"f":14.0,"v":-0.4,"s":"S14"},{"f":15.0,"v":-0.3,"s":"S14"},{"f":16.0,"v":-0.4,"s":"S14"},{"f":16.6,"v":-0.5,"s":"S14"},{"f":17.2,"v":-0.2,"s":"S14"},{"f":17.6,"v":0,"s":"S14"},{"f":18.0,"v":-0.3,"s":"S14"},{"f":18.5,"v":-0.8,"s":"S14"},{"f":19.0,"v":-1.0,"s":"S14"},
      {"f":5.0,"v":-0.3,"s":"S15"},{"f":5.2,"v":-0.2,"s":"S15"},{"f":6.0,"v":-0.4,"s":"S15"},{"f":6.4,"v":-0.3,"s":"S15"},{"f":7.0,"v":-0.5,"s":"S15"},{"f":8.0,"v":-0.3,"s":"S15"},{"f":8.6,"v":-0.3,"s":"S15"},{"f":9.5,"v":-0.9,"s":"S15"},{"f":10.0,"v":-1.0,"s":"S15"},{"f":10.6,"v":-0.8,"s":"S15"},{"f":11.0,"v":-0.8,"s":"S15"},{"f":11.6,"v":-1.3,"s":"S15"},{"f":12.4,"v":-1.5,"s":"S15"},{"f":13.0,"v":-1.3,"s":"S15"},{"f":13.6,"v":-0.9,"s":"S15"},{"f":14.0,"v":-0.7,"s":"S15"},{"f":14.4,"v":-0.8,"s":"S15"},{"f":15.0,"v":-1.0,"s":"S15"},{"f":15.6,"v":-1.2,"s":"S15"},{"f":16.2,"v":-1.6,"s":"S15"},{"f":16.8,"v":-2.3,"s":"S15"},{"f":17.2,"v":-2.8,"s":"S15"},{"f":17.6,"v":-3.0,"s":"S15"},{"f":18.0,"v":-3.8,"s":"S15"},{"f":18.2,"v":-4.3,"s":"S15"},{"f":18.6,"v":-3.7,"s":"S15"},{"f":19.0,"v":-2.6,"s":"S15"},
      {"f":5.0,"v":-2.0,"s":"S16"},{"f":5.015,"v":2.0,"s":"S16"},{"f":5.03,"v":-2.6,"s":"S16"},{"f":5.045,"v":2.2,"s":"S16"},{"f":5.06,"v":-1.6,"s":"S16"},{"f":5.08,"v":1.0,"s":"S16"},{"f":5.14,"v":0.3,"s":"S16"},{"f":5.6,"v":-0.2,"s":"S16"},{"f":6.0,"v":-0.3,"s":"S16"},{"f":6.4,"v":0.1,"s":"S16"},{"f":7.0,"v":-0.2,"s":"S16"},{"f":8.0,"v":-0.3,"s":"S16"},{"f":8.6,"v":-0.2,"s":"S16"},{"f":9.2,"v":-0.6,"s":"S16"},{"f":9.6,"v":-1.2,"s":"S16"},{"f":10.0,"v":-1.2,"s":"S16"},{"f":10.4,"v":-0.7,"s":"S16"},{"f":11.0,"v":-0.2,"s":"S16"},{"f":11.4,"v":-0.7,"s":"S16"},{"f":12.0,"v":-1.2,"s":"S16"},{"f":12.6,"v":-1.6,"s":"S16"},{"f":12.8,"v":-1.8,"s":"S16"},{"f":13.2,"v":-1.4,"s":"S16"},{"f":13.4,"v":-1.0,"s":"S16"},{"f":14.0,"v":-1.0,"s":"S16"},{"f":14.6,"v":-1.2,"s":"S16"},{"f":15.0,"v":-1.3,"s":"S16"},{"f":15.4,"v":-1.0,"s":"S16"},{"f":16.0,"v":-1.5,"s":"S16"},{"f":16.4,"v":-2.0,"s":"S16"},{"f":16.8,"v":-2.5,"s":"S16"},{"f":17.2,"v":-3.2,"s":"S16"},{"f":17.6,"v":-3.2,"s":"S16"},{"f":18.0,"v":-4.0,"s":"S16"},{"f":18.3,"v":-4.5,"s":"S16"},{"f":18.6,"v":-4.3,"s":"S16"},{"f":19.0,"v":-4.0,"s":"S16"}
    ]
  },
  "concat": [
    {
      "width": 410, "height": 250,
      "layer": [
        {
          "data": {"name": "vswr"},
          "mark": {"type": "line", "strokeWidth": 3, "interpolate": "monotone"},
          "encoding": {
            "x": {"field": "f", "type": "quantitative", "scale": {"domain": [5, 19], "nice": false, "zero": false},
                  "axis": {"values": [5, 6.4, 7.8, 9.2, 10.6, 12, 13.4, 14.8, 16.2, 17.6, 19], "tickCount": 11, "format": ".1f", "title": "Frequency \u00a0GHz", "titlePadding": 14, "titleX": 195}},
            "y": {"field": "v", "type": "quantitative", "scale": {"domain": [1, 2], "nice": false, "zero": false},
                  "axis": {"values": [1, 1.1, 1.2, 1.3, 1.4, 1.5, 1.6, 1.7, 1.8, 1.9, 2], "tickCount": 11, "title": "VSWR", "titlePadding": 18}},
            "color": {"field": "s", "type": "nominal", "scale": {"range": ["#00B0F0", "#FF0000", "#92D050", "#7030A0"]},
                      "legend": {"legendX": 329, "legendY": 0, "rowPadding": 7}}
          }
        },
        {
          "data": {"values": [{"t": "www.com-mw.com"}]},
          "mark": {"type": "text", "align": "left", "baseline": "middle"},
          "encoding": {"x": {"datum": 5.48}, "y": {"datum": 1.944}, "text": {"field": "t"}}
        },
        {
          "data": {"values": [{"t": "www.dianzibuy.com"}]},
          "mark": {"type": "text", "align": "right", "baseline": "middle"},
          "encoding": {"x": {"datum": 18.73}, "y": {"datum": 1.045}, "text": {"field": "t"}}
        }
      ]
    },
    {
      "width": 416, "height": 248,
      "layer": [
        {
          "data": {"name": "iso"},
          "mark": {"type": "line", "strokeWidth": 3, "interpolate": "monotone"},
          "encoding": {
            "x": {"field": "f", "type": "quantitative", "scale": {"domain": [5, 19], "nice": false, "zero": false},
                  "axis": {"values": [5, 6.4, 7.8, 9.2, 10.6, 12, 13.4, 14.8, 16.2, 17.6, 19], "tickCount": 11, "format": ".1f", "title": "Frequency \u00a0GHz", "titlePadding": 14, "titleX": 204}},
            "y": {"field": "v", "type": "quantitative", "scale": {"domain": [-48, 2], "nice": false, "zero": false},
                  "axis": {"values": [-48, -43, -38, -33, -28, -23, -18, -13, -8, -3, 2], "tickCount": 11, "title": "ISO (dB)", "titlePadding": 6}},
            "color": {"field": "s", "type": "nominal", "scale": {"range": ["#00B0F0", "#FF0000", "#92D050", "#7030A0"]},
                      "legend": {"legendX": 310, "legendY": 1, "rowPadding": 0}}
          }
        },
        {
          "data": {"values": [{"t": "www.com-mw.com"}]},
          "mark": {"type": "text", "align": "left", "baseline": "middle"},
          "encoding": {"x": {"datum": 5.44}, "y": {"datum": -0.4}, "text": {"field": "t"}}
        },
        {
          "data": {"values": [{"t": "www.dianzibuy.com"}]},
          "mark": {"type": "text", "align": "right", "baseline": "middle"},
          "encoding": {"x": {"datum": 18.7}, "y": {"datum": -46}, "text": {"field": "t"}}
        }
      ]
    },
    {
      "width": 410, "height": 248,
      "layer": [
        {
          "data": {"name": "il"},
          "mark": {"type": "line", "strokeWidth": 3, "interpolate": "monotone"},
          "encoding": {
            "x": {"field": "f", "type": "quantitative", "scale": {"domain": [5, 19], "nice": false, "zero": false},
                  "axis": {"values": [5, 6.4, 7.8, 9.2, 10.6, 12, 13.4, 14.8, 16.2, 17.6, 19], "tickCount": 11, "format": ".1f", "title": "Frequency \u00a0GHz", "titlePadding": 18, "titleX": 199}},
            "y": {"field": "v", "type": "quantitative", "scale": {"domain": [-12.5, -7.5], "nice": false, "zero": false},
                  "axis": {"values": [-12.5, -12, -11.5, -11, -10.5, -10, -9.5, -9, -8.5, -8, -7.5], "tickCount": 11, "title": "IL (dB)", "titlePadding": 2}},
            "color": {"field": "s", "type": "nominal", "scale": {"range": ["#00B0F0", "#FF0000", "#92D050", "#7030A0"]},
                      "legend": {"legendX": 329, "legendY": -4, "rowPadding": 3}}
          }
        },
        {
          "data": {"values": [{"t": "www.com-mw.com"}]},
          "mark": {"type": "text", "align": "left", "baseline": "middle"},
          "encoding": {"x": {"datum": 5.38}, "y": {"datum": -7.72}, "text": {"field": "t"}}
        },
        {
          "data": {"values": [{"t": "www.dianzibuy.com"}]},
          "mark": {"type": "text", "align": "right", "baseline": "middle"},
          "encoding": {"x": {"datum": 18.55}, "y": {"datum": -12.24}, "text": {"field": "t"}}
        }
      ]
    },
    {
      "width": 416, "height": 248,
      "layer": [
        {
          "data": {"name": "phase"},
          "mark": {"type": "line", "strokeWidth": 3, "interpolate": "monotone"},
          "encoding": {
            "x": {"field": "f", "type": "quantitative", "scale": {"domain": [5, 19], "nice": false, "zero": false},
                  "axis": {"values": [5, 6.4, 7.8, 9.2, 10.6, 12, 13.4, 14.8, 16.2, 17.6, 19], "tickCount": 11, "format": ".1f", "title": "Frequency \u00a0GHz", "titlePadding": 18, "titleX": 196}},
            "y": {"field": "v", "type": "quantitative", "scale": {"domain": [-25, 25], "nice": false, "zero": false},
                  "axis": {"values": [-25, -20, -15, -10, -5, 0, 5, 10, 15, 20, 25], "tickCount": 11, "title": "Phase (°)", "titlePadding": 6}},
            "color": {"field": "s", "type": "nominal", "scale": {"range": ["#00B0F0", "#FF0000", "#92D050", "#7030A0"]},
                      "legend": {"legendX": 332, "legendY": -3, "rowPadding": 3}}
          }
        },
        {
          "data": {"values": [{"t": "www.com-mw.com"}]},
          "mark": {"type": "text", "align": "left", "baseline": "middle"},
          "encoding": {"x": {"datum": 5.44}, "y": {"datum": 22.6}, "text": {"field": "t"}}
        },
        {
          "data": {"values": [{"t": "www.dianzibuy.com"}]},
          "mark": {"type": "text", "align": "right", "baseline": "middle"},
          "encoding": {"x": {"datum": 18.67}, "y": {"datum": -22.4}, "text": {"field": "t"}}
        }
      ]
    }
  ],
  "columns": 2,
  "spacing": {"row": 97, "column": 102},
  "bounds": "flush",
  "resolve": {"scale": {"color": "independent", "x": "independent", "y": "independent"}, "legend": {"color": "independent"}},
  "config": {
    "view": {"stroke": null},
    "font": "DejaVu Sans",
    "text": {"font": "DejaVu Sans", "fontSize": 14, "color": "#000"},
    "axis": {
      "grid": true, "gridColor": "#878787", "gridWidth": 1,
      "domainColor": "#878787", "tickColor": "#878787", "tickSize": 5,
      "labelFont": "DejaVu Sans", "labelFontSize": 12, "labelColor": "#000", "labelPadding": 8,
      "labelOverlap": false, "labelFlush": false, "titleColor": "#000"
    },
    "axisX": {"titleFont": "Liberation Mono", "titleFontSize": 14, "titleFontWeight": "bold", "labelPadding": 10},
    "axisY": {"titleFont": "DejaVu Sans", "titleFontSize": 12, "titleFontWeight": "bold",
              "labelExpr": "replace(format(datum.value, '.1f'), '\u2212', '-')"},
    "legend": {
      "title": null, "orient": "none", "fillColor": "white", "padding": 5,
      "symbolType": "stroke", "symbolSize": 1089, "symbolStrokeWidth": 3,
      "labelFont": "DejaVu Sans", "labelFontSize": 12, "labelColor": "#000", "labelOffset": 1
    }
  }
}
